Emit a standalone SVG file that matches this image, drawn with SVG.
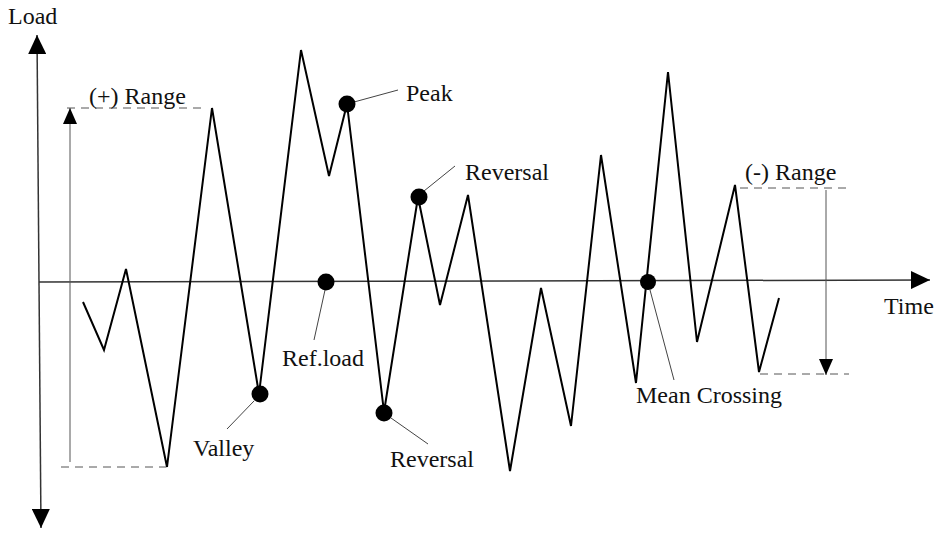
<svg xmlns="http://www.w3.org/2000/svg" width="939" height="536" viewBox="0 0 939 536">
<defs>
<style>
.lbl{font-family:"Liberation Serif","Times New Roman",serif;font-size:24px;fill:#111}
.axis{stroke:#333;stroke-width:1.5;fill:none}
.wave{stroke:#000;stroke-width:2;fill:none;stroke-linejoin:miter}
.lead{stroke:#444;stroke-width:1;fill:none}
.dash{stroke:#555;stroke-width:1;fill:none;stroke-dasharray:8,6}
.rng{stroke:#555;stroke-width:1;fill:none}
.dot{fill:#000}
</style>
<marker id="big" markerUnits="userSpaceOnUse" markerWidth="20" markerHeight="18" refX="19" refY="9" orient="auto">
<path d="M0,0 L19,9 L0,18 Z" fill="#000"/>
</marker>
<marker id="small" markerUnits="userSpaceOnUse" markerWidth="17" markerHeight="14" refX="16" refY="7" orient="auto">
<path d="M0,0 L16,7 L0,14 Z" fill="#000"/>
</marker>
</defs>
<rect width="939" height="536" fill="#fff"/>
<g id="axes">
<line class="axis" x1="39" y1="282" x2="37" y2="35" marker-end="url(#big)"/>
<line class="axis" x1="39" y1="282" x2="41" y2="528" marker-end="url(#big)"/>
<line class="axis" x1="39" y1="282" x2="930" y2="280" marker-end="url(#big)"/>
<text class="lbl" x="8" y="24">Load</text>
<text class="lbl" x="884" y="314">Time</text>
</g>
<g id="wave">
<polyline class="wave" points="83,302 104,350 126,269 167,467 212,108 259,394 301,50 329,176 347,104 384,412 418,197 440,305 468,195 510,471 541,288 571,426 601,155 636,383 668,72 697,342 735,185 759,372 779,298"/>
</g>
<g id="plus-range">
<line class="dash" x1="67" y1="108" x2="206" y2="108"/>
<line class="dash" x1="61" y1="467" x2="166" y2="467"/>
<line class="rng" x1="70" y1="462" x2="70" y2="108" marker-end="url(#small)"/>
<text class="lbl" x="89" y="104">(+) Range</text>
</g>
<g id="minus-range">
<line class="dash" x1="740" y1="188" x2="849" y2="188"/>
<line class="dash" x1="760" y1="374" x2="849" y2="374"/>
<line class="rng" x1="826" y1="190" x2="826" y2="375" marker-end="url(#small)"/>
<text class="lbl" x="745" y="180">(-) Range</text>
</g>
<g id="connectors">
<line class="lead" x1="354" y1="102" x2="398" y2="90"/>
<line class="lead" x1="424" y1="191" x2="455" y2="166"/>
<line class="lead" x1="391" y1="418" x2="428" y2="444"/>
<line class="lead" x1="325" y1="290" x2="314" y2="340"/>
<line class="lead" x1="254" y1="401" x2="227" y2="429"/>
<line class="lead" x1="650" y1="290" x2="674" y2="380"/>
</g>
<g id="peak">
<circle class="dot" cx="347" cy="104" r="8.5"/>
<text class="lbl" x="406" y="101">Peak</text>
</g>
<g id="reversal-top">
<circle class="dot" cx="419" cy="197" r="8.5"/>
<text class="lbl" x="465" y="180">Reversal</text>
</g>
<g id="reversal-bottom">
<circle class="dot" cx="384" cy="413" r="8.5"/>
<text class="lbl" x="390" y="467">Reversal</text>
</g>
<g id="ref-load">
<circle class="dot" cx="326" cy="282" r="8.5"/>
<text class="lbl" x="282" y="366">Ref.load</text>
</g>
<g id="valley">
<circle class="dot" cx="260" cy="394" r="8.5"/>
<text class="lbl" x="193" y="456">Valley</text>
</g>
<g id="mean-crossing">
<circle class="dot" cx="648" cy="282" r="8"/>
<text class="lbl" x="636" y="403">Mean Crossing</text>
</g>
</svg>
